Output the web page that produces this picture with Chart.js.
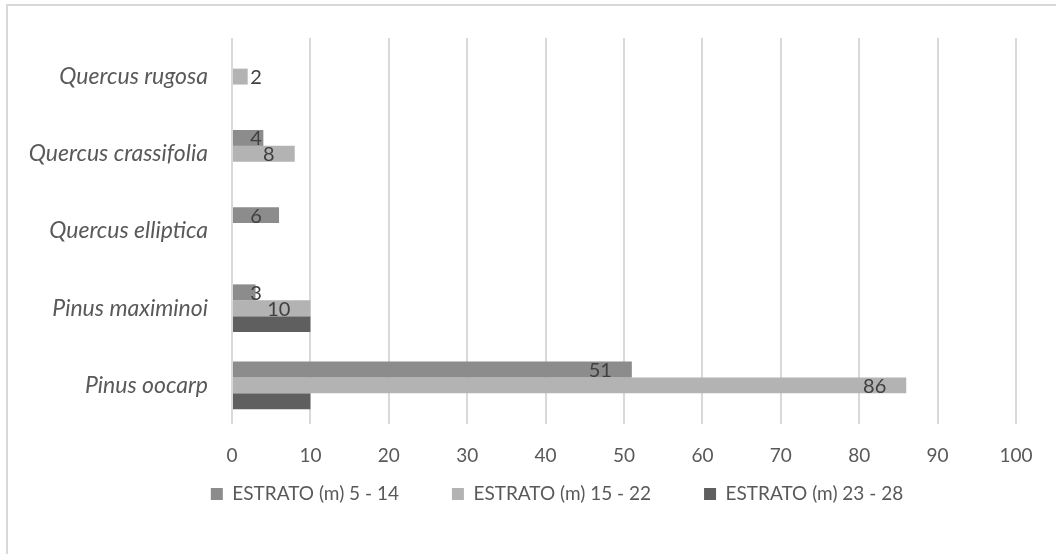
<!DOCTYPE html>
<html>
<head>
<meta charset="utf-8">
<script src="https://cdn.jsdelivr.net/npm/chart.js@4.4.1/dist/chart.umd.min.js"></script>
<style>
  html, body { margin: 0; padding: 0; background: #ffffff; overflow: hidden; }
  #frame {
    position: absolute; left: 6px; top: 4px; width: 1100px; height: 600px;
    border: 2px solid #d9d9d9; box-sizing: border-box;
  }
  #wrap { position: absolute; left: 0; top: 0; width: 1056px; height: 554px; }
</style>
</head>
<body>
<div id="frame"></div>
<div id="wrap"><canvas id="chart" width="1056" height="554"></canvas></div>
<script>
// Species (top to bottom) and tree counts per height stratum
const species = ['Quercus rugosa', 'Quercus crassifolia', 'Quercus elliptica', 'Pinus maximinoi', 'Pinus oocarp'];
const seriesNames = ['ESTRATO (m) 5 - 14', 'ESTRATO (m) 15 - 22', 'ESTRATO (m) 23 - 28'];
const estrato5a14 = [0, 4, 6, 3, 51];
const estrato15a22 = [2, 8, 0, 10, 86];
const estrato23a28 = [0, 0, 0, 10, 10];
const xTicks = [0, 10, 20, 30, 40, 50, 60, 70, 80, 90, 100];

const FONT = 'Lato, "Open Sans", sans-serif';
const TEXT = '#595959';
const colors = ['#8c8c8c', '#b3b3b3', '#5f5f5f'];
const labelled = [true, true, false];

const LEGEND_FONT = 19;
const LEGEND_GAP = 53;
const LEGEND_CENTER_Y = 494;

// Value labels: placed inside the bar end, pushed right for short bars
const valueLabels = {
  id: 'valueLabels',
  afterDatasetsDraw(chart) {
    const ctx = chart.ctx;
    ctx.save();
    ctx.font = '20px ' + FONT;
    ctx.fillStyle = '#404040';
    ctx.textAlign = 'center';
    ctx.textBaseline = 'middle';
    chart.data.datasets.forEach((ds, i) => {
      if (!labelled[i]) return;
      const meta = chart.getDatasetMeta(i);
      meta.data.forEach((bar, j) => {
        const v = ds.data[j];
        if (!v) return;
        const txt = String(v);
        const w = ctx.measureText(txt).width;
        const cx = Math.max(bar.x - 20 - w / 2, bar.base + 23);
        ctx.fillText(txt, cx, bar.y + 1);
      });
    });
    ctx.restore();
  }
};

// Move the legend row under the plot, centred on the value axis
const legendPlace = {
  id: 'legendPlace',
  afterLayout(chart) {
    const lg = chart.legend;
    if (!lg) return;
    const h = lg.height;
    const dx = 49;
    lg.left += dx; lg.right += dx;
    lg.top = LEGEND_CENTER_Y - LEGEND_GAP - LEGEND_FONT / 2;
    lg.bottom = lg.top + h;
  }
};

new Chart(document.getElementById('chart'), {
  type: 'bar',
  data: {
    labels: species,
    datasets: [
      { label: seriesNames[0], data: estrato5a14, backgroundColor: colors[0] },
      { label: seriesNames[1], data: estrato15a22, backgroundColor: colors[1] },
      { label: seriesNames[2], data: estrato23a28, backgroundColor: colors[2] }
    ]
  },
  options: {
    indexAxis: 'y',
    responsive: false,
    animation: false,
    devicePixelRatio: 1,
    layout: { padding: { top: 38, right: 40, left: 0, bottom: 0 } },
    datasets: { bar: { categoryPercentage: 0.617, barPercentage: 1.0 } },
    scales: {
      x: {
        min: 0, max: 100,
        afterBuildTicks(scale) { scale.ticks = xTicks.map(v => ({ value: v })); },
        grid: { color: '#d9d9d9', lineWidth: 2, drawTicks: false },
        border: { display: false },
        ticks: { color: TEXT, font: { family: FONT, size: 19 }, padding: 20 },
        afterFit(scale) { scale.height = 554 - 424 - chartLegendHeight(); }
      },
      y: {
        grid: { display: false, drawTicks: false },
        border: { display: false },
        ticks: { color: TEXT, font: { family: FONT, size: 23, style: 'italic' }, padding: 24 },
        afterFit(scale) { scale.width = 232; }
      }
    },
    plugins: {
      legend: {
        position: 'bottom',
        labels: {
          color: TEXT,
          font: { family: FONT, size: LEGEND_FONT },
          boxWidth: 12, boxHeight: 12,
          padding: LEGEND_GAP
        }
      },
      tooltip: { enabled: false }
    }
  },
  plugins: [valueLabels, legendPlace]
});

// Height the legend box takes in the layout (one row)
function chartLegendHeight() {
  return LEGEND_FONT + LEGEND_GAP + 10;
}
</script>
</body>
</html>
